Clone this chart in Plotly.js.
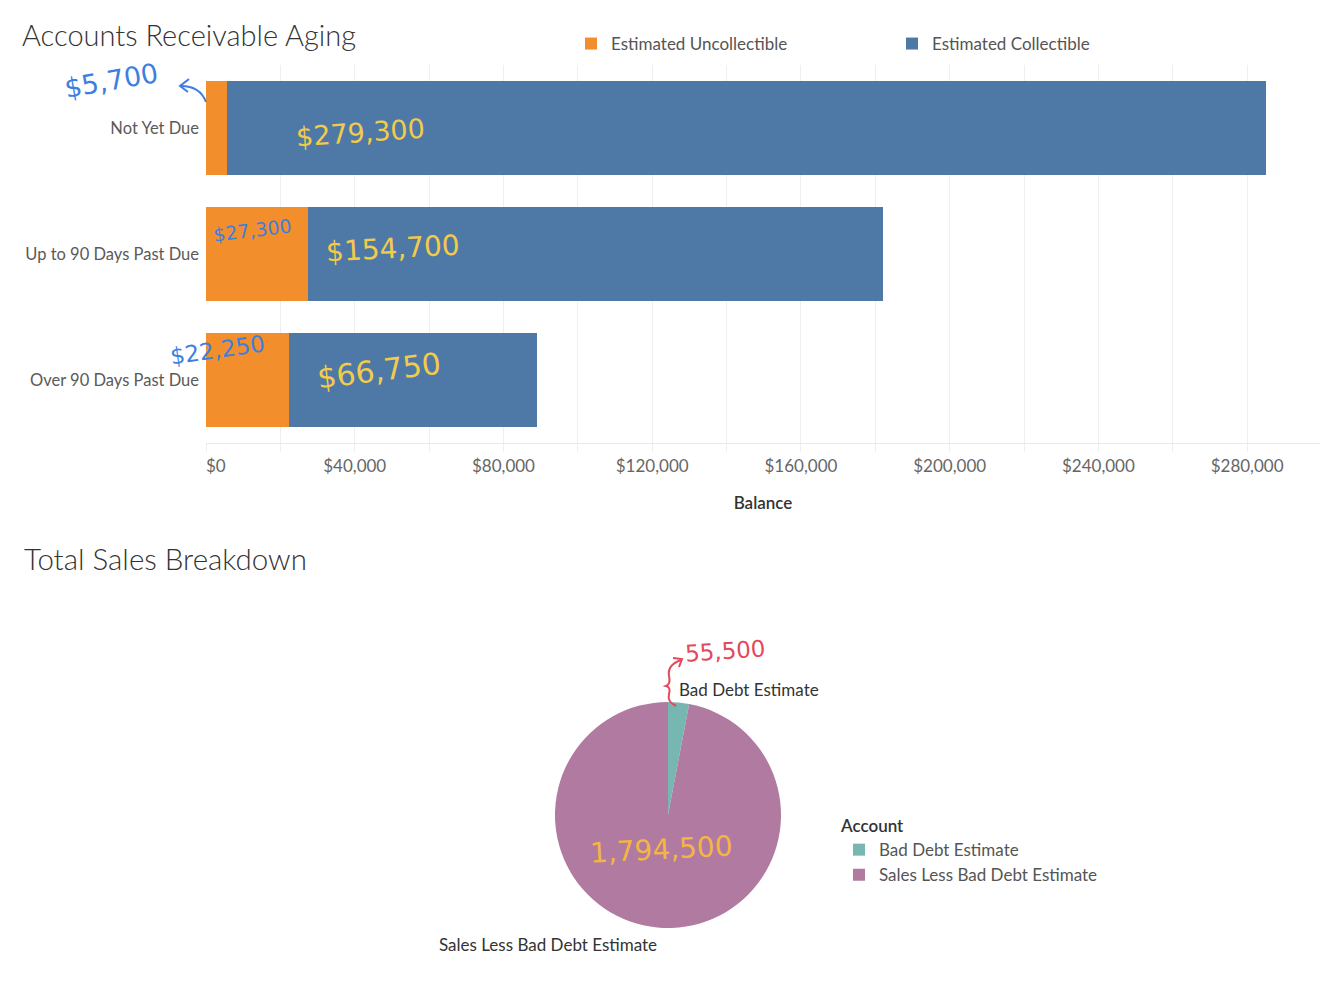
<!DOCTYPE html>
<html>
<head>
<meta charset="utf-8">
<script src="https://cdn.plot.ly/plotly-3.0.1.min.js"></script>
<style>html,body{margin:0;padding:0;background:#fff;}#chart{width:1322px;height:992px;}</style>
</head>
<body>
<div id="chart"></div>
<script>
// ---- data ----
const agingCategories = ['Not Yet Due', 'Up to 90 Days Past Due', 'Over 90 Days Past Due'];
const uncollectible = [5700, 27300, 22250];
const collectible = [279300, 154700, 66750];
const seriesNames = ['Estimated Uncollectible', 'Estimated Collectible'];
const xTickValues = [0, 40000, 80000, 120000, 160000, 200000, 240000, 280000];
const xTickLabels = ['\u2007\u2007$0', '$40,000', '$80,000', '$120,000', '$160,000', '$200,000', '$240,000', '$280,000'];
const pieLabels = ['Bad Debt Estimate', 'Sales Less Bad Debt Estimate'];
const pieValues = [55500, 1794500];

// ---- helpers (pixel -> paper) ----
const W = 1322, H = 992;
const X = p => p / W;
const Y = p => 1 - p / H;
function pathPx(d) {
  let i = 0;
  return d.replace(/-?\d+(\.\d+)?/g, m => {
    const v = parseFloat(m);
    const out = (i % 2 === 0) ? X(v) : Y(v);
    i++;
    return out.toFixed(5);
  });
}
const money = v => '$' + v.toLocaleString('en-US');
const FONT = 'Lato, "Open Sans", sans-serif';
const HAND = '"DejaVu Sans", sans-serif';
const BLUE_INK = '#3d7fe0', YEL_INK = '#f2cb4a', RED_INK = '#e2495a', ORG_INK = '#f4b545';

const traces = [
  {
    type: 'bar', orientation: 'h', name: seriesNames[0],
    y: agingCategories, x: uncollectible,
    marker: {color: '#F28E2B'}, legend: 'legend', hoverinfo: 'x+y+name'
  },
  {
    type: 'bar', orientation: 'h', name: seriesNames[1],
    y: agingCategories, x: collectible,
    marker: {color: '#4E79A7'}, legend: 'legend', hoverinfo: 'x+y+name'
  },
  {
    type: 'pie', labels: pieLabels, values: pieValues,
    marker: {colors: ['#76B7B2', '#B07AA1'], line: {width: 0}},
    sort: false, direction: 'clockwise', rotation: 0,
    textinfo: 'none', hoverinfo: 'label+value',
    domain: {x: [X(555), X(781)], y: [Y(928), Y(702)]},
    legend: 'legend2'
  }
];

const annotations = [
  {text: 'Total Sales Breakdown', xref: 'paper', yref: 'paper', x: X(22), y: Y(558),
   xanchor: 'left', yanchor: 'middle', showarrow: false,
   font: {family: FONT, size: 29.5, color: '#333333', weight: 300}},
  // pie labels
  {text: pieLabels[0], xref: 'paper', yref: 'paper', x: X(677), y: Y(689),
   xanchor: 'left', yanchor: 'middle', showarrow: false,
   font: {family: FONT, size: 17, color: '#333333'}},
  {text: pieLabels[1], xref: 'paper', yref: 'paper', x: X(659), y: Y(944),
   xanchor: 'right', yanchor: 'middle', showarrow: false,
   font: {family: FONT, size: 17, color: '#333333'}},
  // handwritten values - bar chart
  {text: money(uncollectible[0]), xref: 'paper', yref: 'paper', x: X(60), y: Y(80),
   xanchor: 'left', yanchor: 'middle', showarrow: false, textangle: -10,
   font: {family: HAND, size: 27, color: BLUE_INK}},
  {text: money(collectible[0]), xref: 'paper', yref: 'paper', x: X(293), y: Y(132),
   xanchor: 'left', yanchor: 'middle', showarrow: false, textangle: -4,
   font: {family: HAND, size: 27, color: YEL_INK}},
  {text: money(uncollectible[1]), xref: 'paper', yref: 'paper', x: X(210), y: Y(230),
   xanchor: 'left', yanchor: 'middle', showarrow: false, textangle: -7,
   font: {family: HAND, size: 19, color: BLUE_INK}},
  {text: money(collectible[1]), xref: 'paper', yref: 'paper', x: X(323), y: Y(248),
   xanchor: 'left', yanchor: 'middle', showarrow: false, textangle: -3,
   font: {family: HAND, size: 28, color: YEL_INK}},
  {text: money(uncollectible[2]), xref: 'paper', yref: 'paper', x: X(166), y: Y(350),
   xanchor: 'left', yanchor: 'middle', showarrow: false, textangle: -8,
   font: {family: HAND, size: 23, color: BLUE_INK}},
  {text: money(collectible[2]), xref: 'paper', yref: 'paper', x: X(313), y: Y(370),
   xanchor: 'left', yanchor: 'middle', showarrow: false, textangle: -7,
   font: {family: HAND, size: 30, color: YEL_INK}},
  // handwritten values - pie
  {text: pieValues[0].toLocaleString('en-US'), xref: 'paper', yref: 'paper', x: X(682), y: Y(651),
   xanchor: 'left', yanchor: 'middle', showarrow: false, textangle: -4,
   font: {family: HAND, size: 23, color: RED_INK}},
  {text: pieValues[1].toLocaleString('en-US'), xref: 'paper', yref: 'paper', x: X(587), y: Y(849),
   xanchor: 'left', yanchor: 'middle', showarrow: false, textangle: -3,
   font: {family: HAND, size: 28, color: ORG_INK}}
];

const shapes = [
  // blue arrow from bar to $5,700
  {type: 'path', xref: 'paper', yref: 'paper',
   path: pathPx('M 206 102 Q 200 86 181 86'),
   line: {color: BLUE_INK, width: 2}},
  {type: 'path', xref: 'paper', yref: 'paper',
   path: pathPx('M 189 79 L 180 86 L 188 92'),
   line: {color: BLUE_INK, width: 2}},
  // red brace + arrow toward 55,500
  {type: 'path', xref: 'paper', yref: 'paper',
   path: pathPx('M 676 706 Q 667 702 669 694 Q 671 687 666 686 Q 671 684 669 676 Q 667 665 681 660'),
   line: {color: RED_INK, width: 2}},
  {type: 'path', xref: 'paper', yref: 'paper',
   path: pathPx('M 673 658 L 682 659 L 679 667'),
   line: {color: RED_INK, width: 2}}
];

const layout = {
  width: W, height: H,
  margin: {l: 0, r: 0, t: 0, b: 0},
  paper_bgcolor: '#ffffff', plot_bgcolor: '#ffffff',
  font: {family: FONT, color: '#555555'},
  title: {text: 'Accounts Receivable Aging', x: X(22), xanchor: 'left', xref: 'paper',
          y: Y(36), yanchor: 'middle', yref: 'container',
          font: {family: FONT, size: 29, color: '#333333', weight: 300}},
  barmode: 'stack', bargap: 0.254,
  xaxis: {
    domain: [X(206), X(1320)], range: [0, 299600],
    tickvals: xTickValues, ticktext: xTickLabels,
    tickfont: {family: FONT, size: 17, color: '#666666'},
    showgrid: true, gridcolor: '#efefef', gridwidth: 1,
    minor: {dtick: 20000, tick0: 0, showgrid: true, gridcolor: '#efefef', ticks: 'outside', ticklen: 8, tickcolor: '#efefef'},
    ticks: 'outside', ticklen: 8, tickcolor: '#efefef',
    showline: true, linecolor: '#e9e9e9', linewidth: 1,
    zeroline: false, fixedrange: true,
    title: {text: 'Balance', standoff: 21, font: {family: FONT, size: 17, color: '#333333', weight: 600}},
    automargin: false
  },
  yaxis: {
    domain: [Y(443), Y(65)],
    type: 'category', categoryorder: 'array', categoryarray: agingCategories,
    autorange: 'reversed',
    tickfont: {family: FONT, size: 16.5, color: '#5a5a5a'},
    ticks: '', ticklabelstandoff: 6,
    showgrid: false, zeroline: false, showline: false,
    fixedrange: true, automargin: false
  },
  legend: {
    orientation: 'h', x: X(571), xanchor: 'left', y: Y(44), yanchor: 'middle',
    entrywidth: 276, entrywidthmode: 'pixels', traceorder: 'normal',
    font: {family: FONT, size: 17, color: '#555555'},
    bgcolor: 'rgba(0,0,0,0)'
  },
  legend2: {
    orientation: 'v', x: X(839), xanchor: 'left', y: Y(810), yanchor: 'top',
    title: {text: 'Account', font: {family: FONT, size: 17, color: '#333333', weight: 600}},
    font: {family: FONT, size: 17, color: '#555555'},
    traceorder: 'normal', bgcolor: 'rgba(0,0,0,0)'
  },
  annotations: annotations,
  shapes: shapes,
  showlegend: true
};

Plotly.newPlot('chart', traces, layout, {displayModeBar: false, staticPlot: true});
</script>
</body>
</html>
